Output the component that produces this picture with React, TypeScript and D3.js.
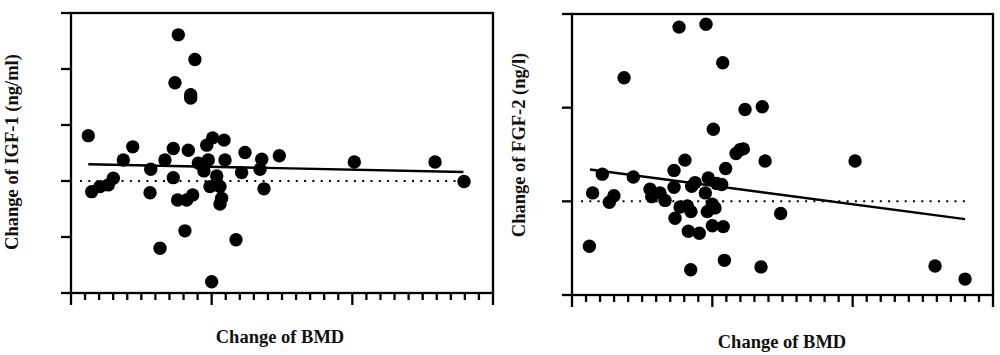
import React from "react";
import * as d3 from "d3";

// Left panel: Change of IGF-1 vs change of BMD
const igfX = [1.23, 1.47, 2.06, 2.65, 3.01, 3.72, 4.39, 5.67, 5.62, 6.33, 6.68, 7.27, 7.27, 7.39, 7.63, 7.58, 8.10, 8.22, 8.34, 8.51, 8.51, 8.65, 8.81, 9.05, 9.29, 9.45, 9.65, 9.76, 9.88, 10.07, 10.0, 10.36, 10.59, 10.71, 10.59, 10.88, 10.95, 11.73, 12.13, 12.37, 13.44, 13.56, 13.72, 14.81, 20.14, 25.88, 27.94];
const igfY = [0.81, -0.19, -0.10, -0.07, 0.05, 0.375, 0.61, 0.21, -0.21, -1.20, 0.375, 0.58, 0.06, 1.755, 2.61, -0.34, -0.89, -0.34, 0.55, 1.54, 1.48, -0.25, 2.17, 0.32, 0.29, 0.18, 0.64, 0.375, -0.10, 0.77, -1.80, 0.09, -0.10, -0.31, -0.41, 0.73, 0.375, -1.05, 0.15, 0.51, 0.21, 0.39, -0.14, 0.45, 0.34, 0.34, -0.01];
const igfFitX = [1.23, 27.9];
const igfFitY = [0.30, 0.16];

// Right panel: Change of FGF-2 vs change of BMD
const fgfX = [1.24, 1.47, 2.16, 2.66, 2.99, 3.71, 4.37, 5.56, 5.68, 6.27, 6.63, 7.27, 7.27, 7.34, 7.63, 7.70, 8.05, 8.22, 8.29, 8.48, 8.53, 8.46, 8.77, 9.07, 9.50, 9.55, 9.64, 9.71, 10.0, 10.07, 10.19, 10.0, 10.31, 10.67, 10.74, 10.78, 10.86, 10.95, 11.69, 11.97, 12.21, 12.33, 13.47, 13.56, 13.76, 14.87, 20.17, 25.87, 28.01];
const fgfY = [-0.48, 0.09, 0.29, -0.01, 0.06, 1.32, 0.26, 0.13, 0.05, 0.09, 0.01, 0.33, 0.15, -0.18, 1.86, -0.06, 0.44, -0.05, -0.32, -0.11, 0.16, -0.73, 0.20, -0.34, 0.09, 1.89, -0.11, 0.25, -0.03, 0.77, -0.07, -0.26, 0.19, 0.18, 1.48, -0.27, -0.63, 0.35, 0.51, 0.55, 0.56, 0.98, -0.70, 1.01, 0.43, -0.13, 0.43, -0.69, -0.83];
const fgfFitX = [1.28, 28.01];
const fgfFitY = [0.34, -0.19];

const xTicks = d3.range(0, 31);
const majorEvery = 10;

const igfYTicks = [-2, -1, 0, 1, 2, 3];
const fgfYTicks = [-1, 0, 1, 2];

const xLabel = "Change of BMD";
const igfLabel = "Change of IGF-1 (ng/ml)";
const fgfLabel = "Change of FGF-2 (ng/l)";

const FONT = "'Liberation Serif', 'Times New Roman', serif";

type PanelProps = {
  left: number;
  right: number;
  top: number;
  bottom: number;
  yDomain: [number, number];
  yTicks: number[];
  xs: number[];
  ys: number[];
  fitX: number[];
  fitY: number[];
  yLabel: string;
  yLabelX: number;
  yLabelY: number;
  xLabelX: number;
  xLabelY: number;
};

function Panel(p: PanelProps) {
  const x = d3.scaleLinear().domain([0, 30]).range([p.left, p.right]);
  const y = d3.scaleLinear().domain(p.yDomain).range([p.bottom, p.top]);
  const sw = 2.3;
  const fitLine = d3
    .line<number>()
    .x((d) => x(p.fitX[d]))
    .y((d) => y(p.fitY[d]))([0, 1]);
  return (
    <g>
      <line
        x1={p.left + 9}
        x2={p.right - 23}
        y1={y(0)}
        y2={y(0)}
        stroke="#000"
        strokeWidth={2}
        strokeDasharray="2 6.3"
      />
      {p.xs.map((v, i) => (
        <circle key={i} cx={x(v)} cy={y(p.ys[i])} r={6.7} fill="#000" />
      ))}
      <path d={fitLine || ""} stroke="#000" strokeWidth={2.4} fill="none" />
      <rect
        x={p.left}
        y={p.top}
        width={p.right - p.left}
        height={p.bottom - p.top}
        fill="none"
        stroke="#000"
        strokeWidth={sw}
      />
      {p.yTicks.map((t) => (
        <line key={"y" + t} x1={p.left - 10} x2={p.left} y1={y(t)} y2={y(t)} stroke="#000" strokeWidth={sw} />
      ))}
      {xTicks.map((t) => (
        <line
          key={"x" + t}
          x1={x(t)}
          x2={x(t)}
          y1={p.bottom}
          y2={p.bottom + (t % majorEvery === 0 ? 12 : 7)}
          stroke="#000"
          strokeWidth={sw}
        />
      ))}
      <text
        transform={`translate(${p.yLabelX},${p.yLabelY}) rotate(-90)`}
        textAnchor="middle"
        fontFamily={FONT}
        fontWeight="bold"
        fontSize={18.5}
        fill="#111"
      >
        {p.yLabel}
      </text>
      <text
        x={p.xLabelX}
        y={p.xLabelY}
        textAnchor="middle"
        fontFamily={FONT}
        fontWeight="bold"
        fontSize={18.5}
        fill="#111"
      >
        {xLabel}
      </text>
    </g>
  );
}

export default function App() {
  return (
    <svg
      width={1000}
      height={355}
      style={{ position: "absolute", left: 0, top: 0, background: "#fff" }}
    >
      <Panel
        left={71}
        right={493}
        top={13}
        bottom={293}
        yDomain={[-2, 3]}
        yTicks={igfYTicks}
        xs={igfX}
        ys={igfY}
        fitX={igfFitX}
        fitY={igfFitY}
        yLabel={igfLabel}
        yLabelX={18}
        yLabelY={152}
        xLabelX={280}
        xLabelY={343}
      />
      <Panel
        left={572}
        right={993}
        top={14}
        bottom={295}
        yDomain={[-1, 2]}
        yTicks={fgfYTicks}
        xs={fgfX}
        ys={fgfY}
        fitX={fgfFitX}
        fitY={fgfFitY}
        yLabel={fgfLabel}
        yLabelX={525}
        yLabelY={145}
        xLabelX={782}
        xLabelY={348}
      />
    </svg>
  );
}
